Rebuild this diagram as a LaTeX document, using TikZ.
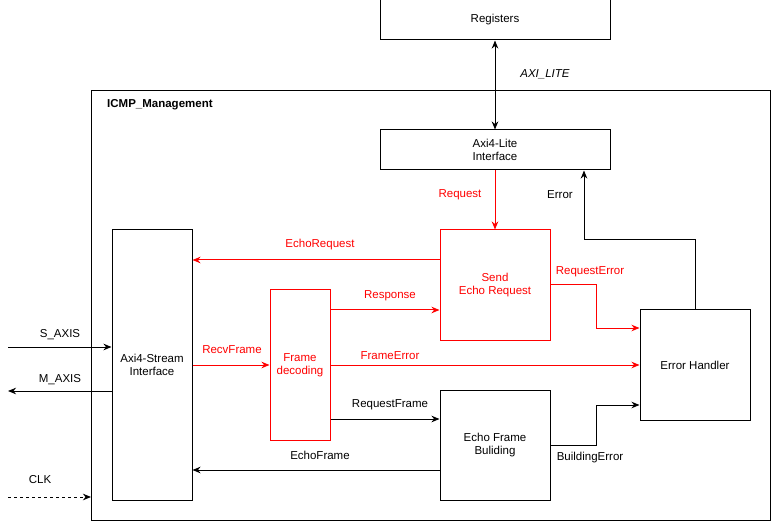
\documentclass[tikz,border=0pt]{standalone}
\usepackage{fontspec}
\setmainfont{Liberation Sans}
\usetikzlibrary{arrows.meta}
\begin{document}
\begin{tikzpicture}[x=1pt,y=-1pt,
  every node/.style={font=\fontsize{11.5}{13.5}\selectfont},
  box/.style={draw, line width=1pt, align=center, inner sep=0pt},
  redbox/.style={box, draw=red, text=red},
  lbl/.style={inner sep=1pt, yshift=-2pt},
  redlbl/.style={lbl, text=red},
  tip/.style={-{Stealth[length=8pt,width=6.5pt,inset=2.5pt]}},
  conn/.style={line width=1pt, tip},
  redconn/.style={conn, draw=red},
]
\useasboundingbox (0,0) rectangle (771,521);
% container
\node[draw, line width=1pt, minimum width=679pt, minimum height=430pt, inner sep=0pt, anchor=north west] (cont) at (91,90) {};
\node[anchor=west, font=\fontsize{11.5}{13.5}\selectfont\bfseries, inner sep=0pt, yshift=-2pt] (title) at (107,103) {ICMP\_Management};
% boxes
\node[box, minimum width=230pt, minimum height=40pt] (reg) at (495,20) {Registers};
\node[box, minimum width=230pt, minimum height=40pt] (lite) at (495,150) {Axi4-Lite\\Interface};
\node[box, minimum width=80pt, minimum height=270pt] (axs) at (152,365) {Axi4-Stream\\Interface};
\node[redbox, minimum width=60pt, minimum height=150pt] (fd) at (300,365) {Frame\\decoding};
\node[redbox, minimum width=110pt, minimum height=110pt] (ser) at (495,285) {Send\\Echo Request};
\node[box, minimum width=110pt, minimum height=110pt] (efb) at (495,445) {Echo Frame\\Buliding};
\node[box, minimum width=110pt, minimum height=110pt] (eh) at (695,365) {Error Handler};
% helper coordinates
\coordinate (yEchoReq) at (0,260);
\coordinate (yResp) at (0,310);
\coordinate (yRecv) at (0,365);
\coordinate (yReqFr) at (0,419);
\coordinate (yEchoFr) at (0,470);
\coordinate (yReqErr) at (0,285);
\coordinate (yReqErr2) at (0,328);
\coordinate (xBend) at (596,0);
\coordinate (yBldErr) at (0,445);
\coordinate (yBldErr2) at (0,405);
\coordinate (errturn) at (584,240);
\coordinate (sin) at (8,347);
\coordinate (mout) at (8,391);
\coordinate (clkin) at (8,497);
% connectors
\draw[line width=1pt, {Stealth[length=8pt,width=6.5pt,inset=2.5pt]}-{Stealth[length=8pt,width=6.5pt,inset=2.5pt]}] (reg.south) -- (lite.north);
\draw[redconn] (lite.south) -- (ser.north);
\draw[conn] (eh.north) |- (errturn) -- (errturn |- lite.south);
\draw[redconn] (ser.west |- yEchoReq) -- (axs.east |- yEchoReq);
\draw[redconn] (fd.east |- yResp) -- (ser.west |- yResp);
\draw[redconn] (axs.east |- yRecv) -- (fd.west |- yRecv);
\draw[redconn] (fd.east |- yRecv) -- (eh.west |- yRecv);
\draw[conn] (fd.east |- yReqFr) -- (efb.west |- yReqFr);
\draw[conn] (efb.west |- yEchoFr) -- (axs.east |- yEchoFr);
\draw[redconn] (ser.east |- yReqErr) -| (xBend |- yReqErr2) -- (eh.west |- yReqErr2);
\draw[conn] (efb.east |- yBldErr) -| (xBend |- yBldErr2) -- (eh.west |- yBldErr2);
\draw[conn] (sin) -- (axs.west |- sin);
\draw[conn] (axs.west |- mout) -- (mout);
\draw[conn, dashed] (clkin) -- (cont.west |- clkin);
% labels
\node[lbl, font=\fontsize{11.5}{13.5}\selectfont\itshape] (lAxiLite) at (545,72) {AXI\_LITE};
\node[redlbl] (lReq) at (460,193) {Request};
\node[lbl] (lErr) at (560,193) {Error};
\node[redlbl] (lEchoReq) at (320,243) {EchoRequest};
\node[redlbl] (lReqErr) at (590,270) {RequestError};
\node[redlbl] (lResp) at (390,294) {Response};
\node[redlbl] (lRecv) at (232,348) {RecvFrame};
\node[redlbl] (lFrErr) at (390,354) {FrameError};
\node[lbl] (lReqFr) at (390,403) {RequestFrame};
\node[lbl] (lEchoFr) at (320,453) {EchoFrame};
\node[lbl] (lBldErr) at (590,456) {BuildingError};
\node[lbl] (lS) at (60,333) {S\_AXIS};
\node[lbl] (lM) at (60,378) {M\_AXIS};
\node[lbl] (lClk) at (40,478) {CLK};
\end{tikzpicture}
\end{document}
